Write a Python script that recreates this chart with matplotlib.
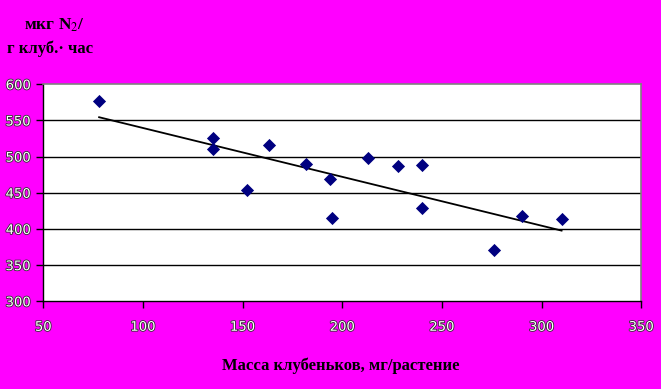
import numpy as np
import matplotlib
matplotlib.use("Agg")
import matplotlib.pyplot as plt
import matplotlib.patheffects as pe

# nodule mass (mg/plant) vs nitrogenase activity
mass = [78, 135, 135, 152, 163, 182, 194, 195, 213, 228, 240, 240, 276, 290, 310]
activity = [576.5, 525.4, 511.1, 454.1, 515.8, 489.5, 468.8, 415, 497.8, 486.8,
            488.2, 428.8, 370.8, 417.8, 413.6]
xticks = [50, 100, 150, 200, 250, 300, 350]
yticks = [300, 350, 400, 450, 500, 550, 600]

plt.rcParams['font.family'] = ['Liberation Serif', 'DejaVu Serif']
plt.rcParams['mathtext.fontset'] = 'stix'

fig = plt.figure(figsize=(6.61, 3.89), dpi=100, facecolor='#ff00ff')
ax = fig.add_axes([0.0655, 0.2254, 0.9047, 0.5579])
ax.set_facecolor('white')

ax.set_xlim(50, 350)
ax.set_ylim(300, 600)
ax.set_xticks(xticks)
ax.set_yticks(yticks)

for y in yticks[1:-1]:
    ax.axhline(y, color='black', lw=1.0, zorder=1)

ax.scatter(mass, activity, marker='D', s=45, color='#000080', zorder=3,
           linewidths=0)

# linear trend over the data range
k, b = np.polyfit(mass, activity, 1)
xs = np.array([min(mass), max(mass)])
ax.plot(xs, k * xs + b, color='black', lw=1.3, zorder=2)

for s in ['top', 'right']:
    ax.spines[s].set_color('#808080')
    ax.spines[s].set_linewidth(1.2)
for s in ['left', 'bottom']:
    ax.spines[s].set_color('black')
    ax.spines[s].set_linewidth(1.0)

ax.tick_params(direction='out', length=5, width=1, color='black', pad=4)
outline = [pe.withStroke(linewidth=1.2, foreground='#303030')]
for lab in ax.get_xticklabels() + ax.get_yticklabels():
    lab.set_fontfamily('DejaVu Sans')
    lab.set_fontsize(9.5)
    lab.set_color('white')
    lab.set_path_effects(outline)
ax.tick_params(axis='x', pad=9)

fig.text(0.037, 0.935, r"мкг N$_2$/", fontsize=12.5, fontweight='bold',
         color='black', ha='left', va='center')
fig.text(0.011, 0.875, "г клуб.· час", fontsize=12, fontweight='bold',
         color='black', ha='left', va='center')
fig.text(0.516, 0.059, "Масса клубеньков, мг/растение", fontsize=12,
         fontweight='bold', color='black', ha='center', va='center')

fig.savefig("out.png", dpi=100, facecolor=fig.get_facecolor())
